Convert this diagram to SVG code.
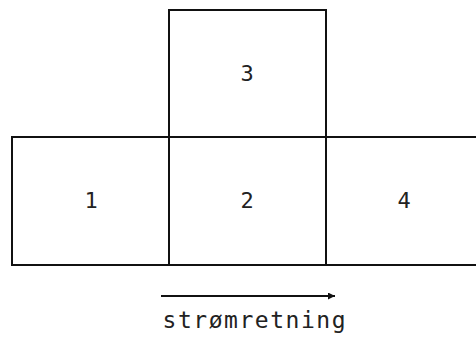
<svg xmlns="http://www.w3.org/2000/svg" width="476" height="338" viewBox="0 0 476 338">
<style>
.box{fill:none;stroke:#111;stroke-width:2}
.lbl{font-family:"DejaVu Sans Mono","Liberation Mono",monospace;font-size:22px;fill:#222;text-anchor:middle}
</style>
<defs>
<marker id="ah" viewBox="0 0 10 10" refX="10" refY="5" markerWidth="9" markerHeight="7" markerUnits="userSpaceOnUse" orient="auto"><path d="M0,0 L10,5 L0,10 Z" fill="#111"/></marker>
</defs>
<rect width="476" height="338" fill="#fff"/>
<g id="n3"><rect class="box" x="169" y="10" width="157" height="127"/><text class="lbl" x="247" y="81">3</text></g>
<g id="n1"><rect class="box" x="12" y="137" width="157" height="128"/><text class="lbl" x="91" y="208">1</text></g>
<g id="n2"><rect class="box" x="169" y="137" width="157" height="128"/><text class="lbl" x="247" y="208">2</text></g>
<g id="n4"><path class="box" d="M326,137 H478 M326,265 H478"/><text class="lbl" x="404" y="208">4</text></g>
<g id="connectors"><line x1="161" y1="296" x2="335" y2="296" stroke="#111" stroke-width="2" marker-end="url(#ah)"/></g>
<text class="lbl" x="254" y="328" textLength="183" lengthAdjust="spacing" style="font-size:23px">strømretning</text>
</svg>
